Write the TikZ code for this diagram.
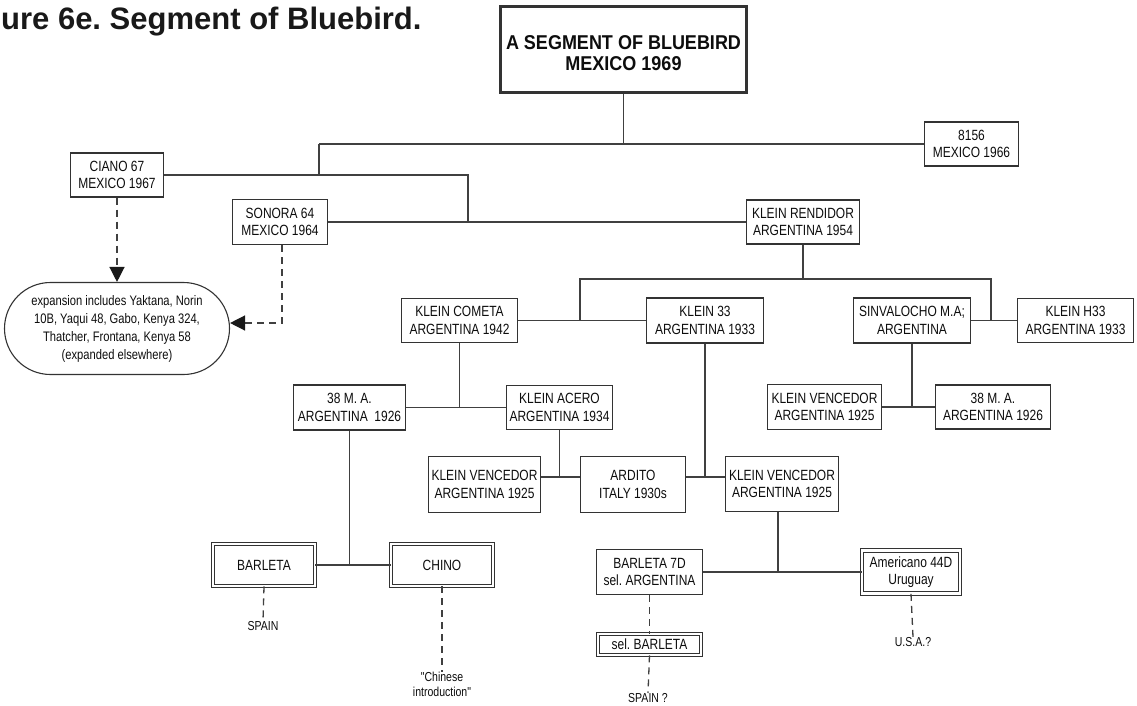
\documentclass[tikz,border=0pt]{standalone}
\usepackage{fontspec}
\setmainfont{Liberation Sans}
\newfontfamily\boxf{Liberation Sans}[FakeStretch=0.81]
\newfontfamily\topf{Liberation Sans}[FakeStretch=0.9]
\usetikzlibrary{arrows.meta}
\frenchspacing
\begin{document}
\begin{tikzpicture}[x=1pt,y=-1pt,
  box/.style={draw=black!80, line width=1.1pt, fill=white, inner sep=0pt, align=center,
    font=\boxf\fontsize{14.8}{17.5}\selectfont, text=black!95},
  dbox/.style={box, double=white, double distance=2.6pt, line width=0.9pt},
  conn/.style={draw=black!75, line width=1.4pt},
  dconn/.style={conn, line width=1.3pt, dash pattern=on 7pt off 5pt},
  lab/.style={inner sep=0pt, align=center, font=\boxf\fontsize{13}{15}\selectfont, text=black!95},
  arr/.style={-{Triangle[length=15pt,width=15pt,color=black!90]}}]
\fill[white] (0,0) rectangle (1137,706);
\useasboundingbox (0,0) rectangle (1137,706);

\node[anchor=base west, inner sep=0pt, font=\bfseries\fontsize{31}{31}\selectfont, text=black!90] (title) at (1,30) {ure 6e. Segment of Bluebird.};

\node[box, line width=2.8pt, minimum width=246pt, minimum height=86pt,
  font=\topf\bfseries\fontsize{20}{20.5}\selectfont] (top) at (623.5,49.5) {\rule{0pt}{21pt}A SEGMENT OF BLUEBIRD\\MEXICO 1969};

\node[box, minimum width=93pt, minimum height=44pt] (ciano) at (117,175) {CIANO 67\\MEXICO 1967};
\node[box, minimum width=95pt, minimum height=45pt] (sonora) at (280,222) {SONORA 64\\MEXICO 1964};
\node[box, minimum width=94pt, minimum height=44pt] (s8156) at (971.5,144) {8156\\MEXICO 1966};
\node[box, minimum width=113pt, minimum height=44pt] (kr) at (803,222) {KLEIN RENDIDOR\\ARGENTINA 1954};
\node[box, minimum width=116pt, minimum height=44pt] (kc) at (459.5,320.5) {KLEIN COMETA\\ARGENTINA 1942};
\node[box, minimum width=117pt, minimum height=45pt] (k33) at (705,320.5) {KLEIN 33\\ARGENTINA 1933};
\node[box, minimum width=117pt, minimum height=45pt] (sinv) at (912,320.5) {SINVALOCHO M.A;\\ARGENTINA};
\node[box, minimum width=116pt, minimum height=44pt] (h33) at (1075.5,320.5) {KLEIN H33\\ARGENTINA 1933};
\node[box, minimum width=112pt, minimum height=45pt] (mal) at (349.5,407.5) {38 M. A.\\ARGENTINA\ \ 1926};
\node[box, minimum width=106pt, minimum height=44pt] (ka) at (559.5,407.5) {KLEIN ACERO\\ARGENTINA 1934};
\node[box, minimum width=114pt, minimum height=45pt] (kvr) at (824.5,407) {KLEIN VENCEDOR\\ARGENTINA 1925};
\node[box, minimum width=115pt, minimum height=44pt] (mar) at (993,407) {38 M. A.\\ARGENTINA 1926};
\node[box, minimum width=112pt, minimum height=56pt] (kvl) at (484.5,484.5) {KLEIN VENCEDOR\\ARGENTINA 1925};
\node[box, minimum width=105pt, minimum height=56pt] (ard) at (633,484.5) {ARDITO\\ITALY 1930s};
\node[box, minimum width=113pt, minimum height=55pt] (kvm) at (782,484) {KLEIN VENCEDOR\\ARGENTINA 1925};
\node[dbox, minimum width=102pt, minimum height=42pt] (barleta) at (264,565) {BARLETA};
\node[dbox, minimum width=102pt, minimum height=42pt] (chino) at (442,565) {CHINO};
\node[box, minimum width=106pt, minimum height=45pt] (b7d) at (649.5,572) {BARLETA 7D\\sel. ARGENTINA};
\node[dbox, minimum width=98pt, minimum height=43pt] (amer) at (911,572) {Americano 44D\\Uruguay};
\node[dbox, minimum width=103pt, minimum height=21pt] (selb) at (649.5,644.5) {sel. BARLETA};
\node[box, rounded corners=46pt, minimum width=225pt, minimum height=92pt,
  font=\boxf\fontsize{13.8}{18}\selectfont] (oval) at (117,328.5)
  {expansion includes Yaktana, Norin\\10B, Yaqui 48, Gabo, Kenya 324,\\Thatcher, Frontana, Kenya 58\\(expanded elsewhere)};

\node[lab, anchor=north] (spain) at (263,621) {SPAIN};
\node[lab, anchor=north] (chinese) at (442,672) {"Chinese\\introduction"};
\node[lab, anchor=north] (spainq) at (648,693) {SPAIN ?};
\node[lab, anchor=north] (usa) at (913,637) {U.S.A.?};

% solid connectors
\coordinate (a1) at (319,144);
\coordinate (a2) at (468,175);
\draw[conn] (top.south) -- (top.south |- a1);
\draw[conn] (a1) -- (s8156.west);
\draw[conn] (a1) -- (a1 |- ciano.east);
\draw[conn] (ciano.east) -- (a2) -- (a2 |- sonora.east);
\draw[conn] (sonora.east) -- (kr.west);
\coordinate (b1) at (580,279);
\coordinate (b2) at (991,279);
\draw[conn] (kr.south) -- (kr.south |- b1);
\draw[conn] (b1 |- kc.east) -- (b1) -- (b2) -- (b2 |- sinv.east);
\draw[conn] (kc.east) -- (k33.west);
\draw[conn] (sinv.east) -- (h33.west);
\draw[conn] (kc.south) -- (kc.south |- mal.east);
\draw[conn] (mal.east) -- (ka.west);
\draw[conn] (mal.south) -- (mal.south |- barleta.east);
\draw[conn] (barleta.east) -- (chino.west);
\coordinate (c1) at (560,477);
\draw[conn] (ka.south) -- (ka.south |- c1);
\draw[conn] (kvl.east |- c1) -- (ard.west |- c1);
\draw[conn] (k33.south) -- (k33.south |- c1);
\draw[conn] (ard.east |- c1) -- (kvm.west |- c1);
\coordinate (d1) at (778,572);
\draw[conn] (kvm.south -| d1) -- (d1);
\draw[conn] (b7d.east) -- (amer.west);
\draw[conn] (sinv.south) -- (sinv.south |- kvr.east);
\draw[conn] (kvr.east) -- (mar.west);

% dashed connectors
\draw[dconn, arr] (ciano.south) -- (oval.north);
\coordinate (e1) at (282,323);
\draw[dconn, arr] (sonora.south -| e1) -- (e1) -- (oval.east |- e1);
\draw[dconn] (barleta.south) -- (spain.north);
\draw[dconn] (chino.south) -- (chinese.north);
\draw[dconn] (b7d.south) -- (selb.north);
\draw[dconn] (selb.south) -- (spainq.north);
\draw[dconn] (amer.south) -- (usa.north);
\end{tikzpicture}
\end{document}
